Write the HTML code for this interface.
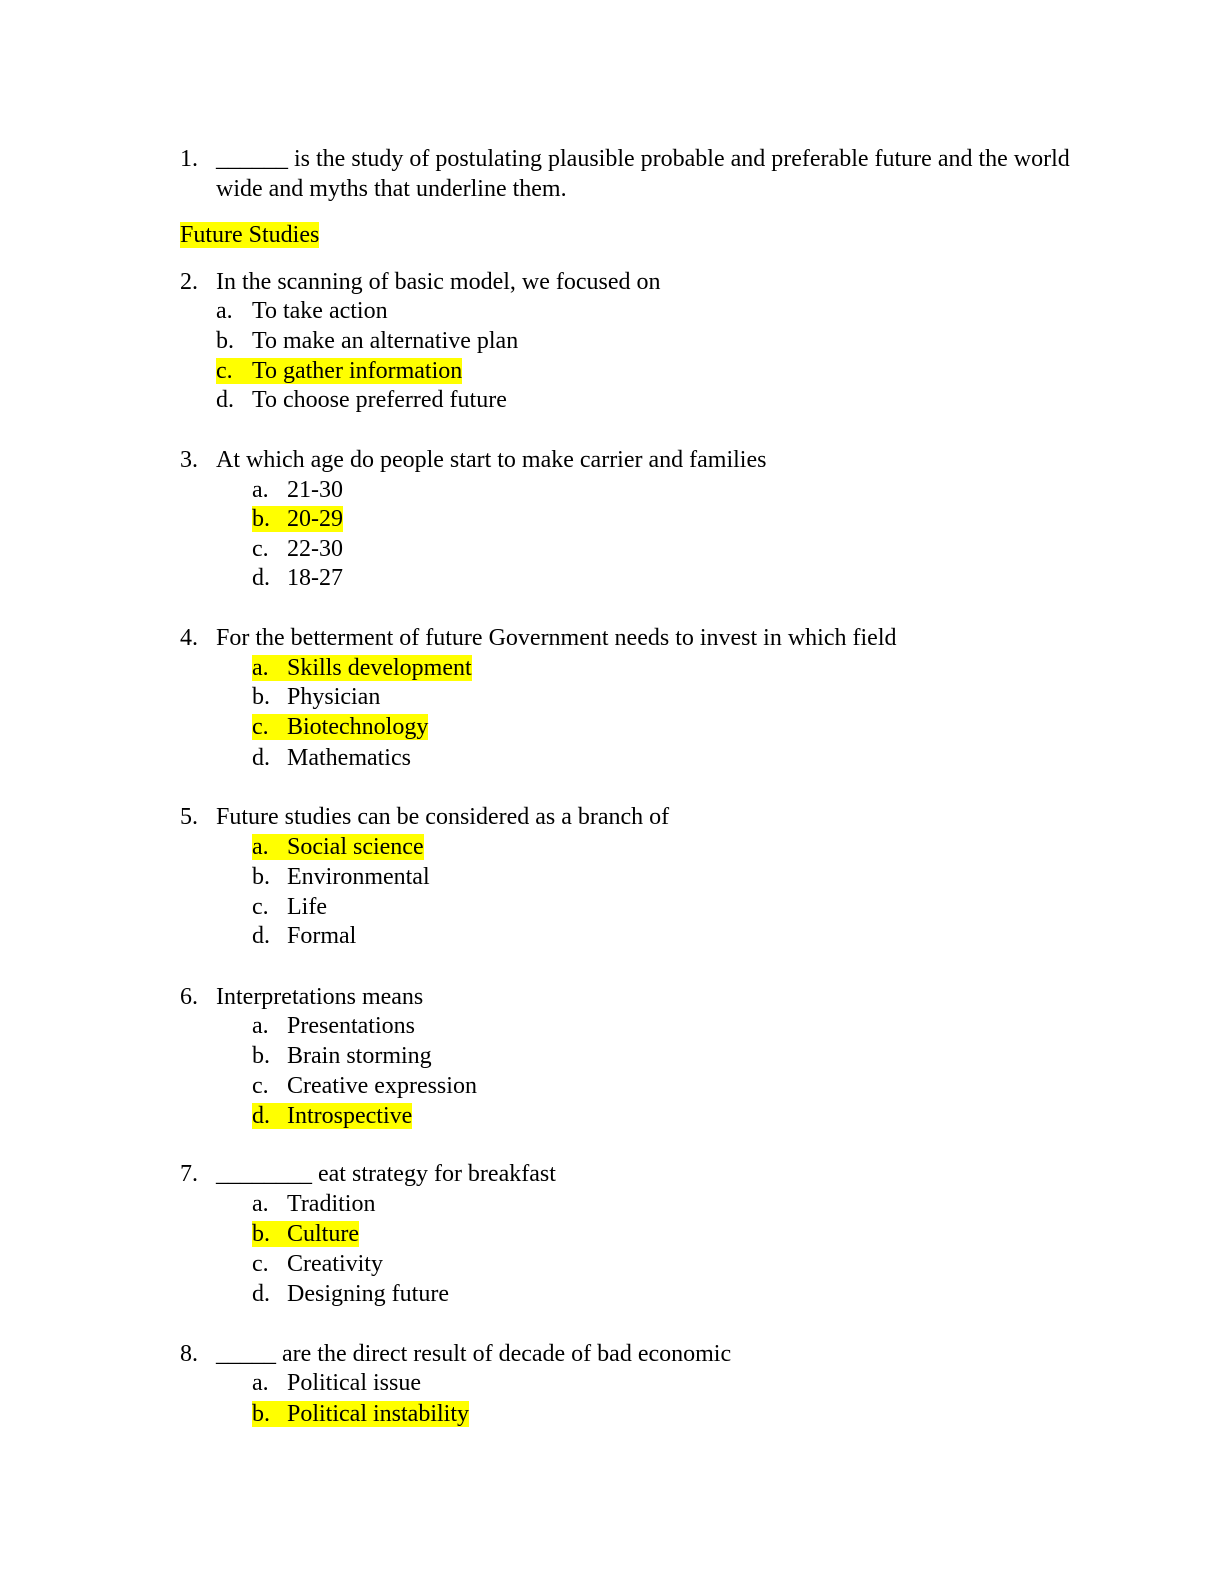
<!DOCTYPE html>
<html><head><meta charset="utf-8"><style>
html,body{margin:0;padding:0;background:#fff;}
body{width:1224px;height:1584px;position:relative;overflow:hidden;font-family:"Liberation Serif",serif;font-size:24px;color:#000;}
.l{position:absolute;line-height:30px;white-space:nowrap;}
.h{background:#ffff00;}
.i{display:inline-block;}
</style></head><body>
<div class="l" style="top:144px;left:180px">1.</div>
<div class="l" style="top:144px;left:216px">______ is the study of postulating plausible probable and preferable future and the world</div>
<div class="l" style="top:174px;left:216px">wide and myths that underline them.</div>
<div class="l" style="top:220px;left:180px"><span class="h">Future Studies</span></div>

<div class="l" style="top:267px;left:180px">2.</div>
<div class="l" style="top:267px;left:216px">In the scanning of basic model, we focused on</div>
<div class="l" style="top:296px;left:216px"><span class="i" style="width:36px">a.</span>To take action</div>
<div class="l" style="top:326px;left:216px"><span class="i" style="width:36px">b.</span>To make an alternative plan</div>
<div class="l" style="top:356px;left:216px"><span class="h"><span class="i" style="width:36px">c.</span>To gather information</span></div>
<div class="l" style="top:385px;left:216px"><span class="i" style="width:36px">d.</span>To choose preferred future</div>

<div class="l" style="top:445px;left:180px">3.</div>
<div class="l" style="top:445px;left:216px">At which age do people start to make carrier and families</div>
<div class="l" style="top:475px;left:252px"><span class="i" style="width:35px">a.</span>21-30</div>
<div class="l" style="top:504px;left:252px"><span class="h"><span class="i" style="width:35px">b.</span>20-29</span></div>
<div class="l" style="top:534px;left:252px"><span class="i" style="width:35px">c.</span>22-30</div>
<div class="l" style="top:563px;left:252px"><span class="i" style="width:35px">d.</span>18-27</div>

<div class="l" style="top:623px;left:180px">4.</div>
<div class="l" style="top:623px;left:216px">For the betterment of future Government needs to invest in which field</div>
<div class="l" style="top:653px;left:252px"><span class="h"><span class="i" style="width:35px">a.</span>Skills development</span></div>
<div class="l" style="top:682px;left:252px"><span class="i" style="width:35px">b.</span>Physician</div>
<div class="l" style="top:712px;left:252px"><span class="h"><span class="i" style="width:35px">c.</span>Biotechnology</span></div>
<div class="l" style="top:743px;left:252px"><span class="i" style="width:35px">d.</span>Mathematics</div>

<div class="l" style="top:802px;left:180px">5.</div>
<div class="l" style="top:802px;left:216px">Future studies can be considered as a branch of</div>
<div class="l" style="top:832px;left:252px"><span class="h"><span class="i" style="width:35px">a.</span>Social science</span></div>
<div class="l" style="top:862px;left:252px"><span class="i" style="width:35px">b.</span>Environmental</div>
<div class="l" style="top:892px;left:252px"><span class="i" style="width:35px">c.</span>Life</div>
<div class="l" style="top:921px;left:252px"><span class="i" style="width:35px">d.</span>Formal</div>

<div class="l" style="top:982px;left:180px">6.</div>
<div class="l" style="top:982px;left:216px">Interpretations means</div>
<div class="l" style="top:1011px;left:252px"><span class="i" style="width:35px">a.</span>Presentations</div>
<div class="l" style="top:1041px;left:252px"><span class="i" style="width:35px">b.</span>Brain storming</div>
<div class="l" style="top:1071px;left:252px"><span class="i" style="width:35px">c.</span>Creative expression</div>
<div class="l" style="top:1101px;left:252px"><span class="h"><span class="i" style="width:35px">d.</span>Introspective</span></div>

<div class="l" style="top:1159px;left:180px">7.</div>
<div class="l" style="top:1159px;left:216px">________ eat strategy for breakfast</div>
<div class="l" style="top:1189px;left:252px"><span class="i" style="width:35px">a.</span>Tradition</div>
<div class="l" style="top:1219px;left:252px"><span class="h"><span class="i" style="width:35px">b.</span>Culture</span></div>
<div class="l" style="top:1249px;left:252px"><span class="i" style="width:35px">c.</span>Creativity</div>
<div class="l" style="top:1279px;left:252px"><span class="i" style="width:35px">d.</span>Designing future</div>

<div class="l" style="top:1339px;left:180px">8.</div>
<div class="l" style="top:1339px;left:216px">_____ are the direct result of decade of bad economic</div>
<div class="l" style="top:1368px;left:252px"><span class="i" style="width:35px">a.</span>Political issue</div>
<div class="l" style="top:1399px;left:252px"><span class="h"><span class="i" style="width:35px">b.</span>Political instability</span></div>
</body></html>
